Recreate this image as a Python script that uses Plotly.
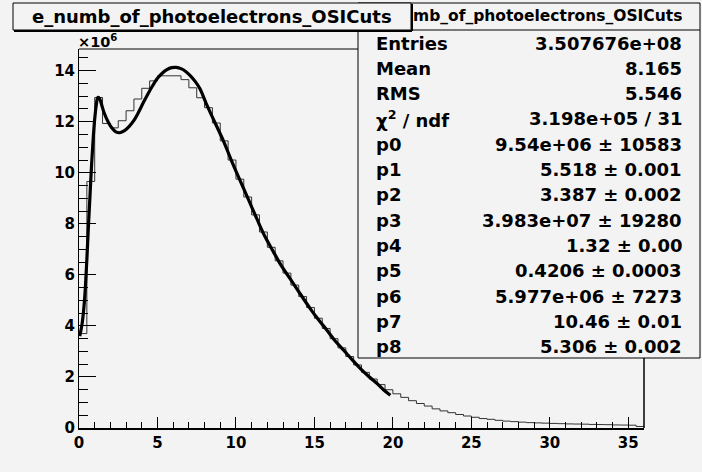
import numpy as np
import plotly.graph_objects as go

# histogram contents (units of 1e6), 0.5 wide bins from 0 to 36
bin_width = 0.5
hist_counts_1e6 = [
    3.7, 9.66, 12.95, 11.93, 11.76, 12.04, 12.43, 12.89, 13.31, 13.6,
    13.8, 13.8, 13.8, 13.65, 13.33, 12.94, 12.55, 11.95, 11.25, 10.5,
    9.75, 9.05, 8.35, 7.68, 7.08, 6.55, 6.07, 5.6, 5.15, 4.72,
    4.3, 3.9, 3.5, 3.14, 2.8, 2.47, 2.18, 1.92, 1.7, 1.5,
    1.34, 1.2, 1.07, 0.96, 0.86, 0.75, 0.67, 0.6, 0.53, 0.47,
    0.42, 0.37, 0.34, 0.3, 0.27, 0.25, 0.23, 0.21, 0.2, 0.19,
    0.18, 0.17, 0.16, 0.155, 0.15, 0.14, 0.135, 0.13, 0.12, 0.115,
    0.11, 0.06,
]

# fit curve
fit_x = [0.05, 0.2, 0.35, 0.5, 0.6, 0.7, 0.8, 0.9, 1.0, 1.1, 1.2, 1.3, 1.45,
         1.6, 1.85, 2.1, 2.35, 2.6, 2.9, 3.2, 3.5, 3.8, 4.1, 4.4, 4.7, 5.0,
         5.3, 5.6, 5.9, 6.2, 6.5, 6.8, 7.1, 7.4, 7.7, 8.1, 8.6, 9.2, 9.7,
         10.26, 10.8, 11.33, 11.85, 12.39, 12.9, 13.45, 14.1, 14.73, 15.25,
         15.8, 16.3, 16.86, 17.4, 17.93, 18.5, 19.0, 19.4, 19.84]
fit_y = [3.6, 4.1, 5.0, 6.6, 7.9, 9.1, 10.3, 11.3, 12.1, 12.65, 12.95, 12.92,
         12.65, 12.35, 12.0, 11.75, 11.6, 11.57, 11.65, 11.82, 12.05, 12.38,
         12.75, 13.1, 13.42, 13.7, 13.9, 14.04, 14.12, 14.13, 14.08, 13.97,
         13.8, 13.58, 13.3, 12.72, 12.05, 11.25, 10.5, 9.7, 8.95, 8.2, 7.5,
         6.9, 6.35, 5.85, 5.25, 4.68, 4.25, 3.83, 3.43, 3.05, 2.68, 2.33,
         2.0, 1.74, 1.5, 1.28]

stats_labels = ["Entries", "Mean", "RMS", "χ<sup>2</sup> / ndf",
                "p0", "p1", "p2", "p3", "p4", "p5", "p6", "p7", "p8"]
stats_values = ["3.507676e+08", "8.165", "5.546", "3.198e+05 / 31",
                "9.54e+06 ± 10583", "5.518 ± 0.001", "3.387 ± 0.002",
                "3.983e+07 ± 19280", "1.32 ± 0.00", "0.4206 ± 0.0003",
                "5.977e+06 ± 7273", "10.46 ± 0.01", "5.306 ± 0.002"]

title_text = "e_numb_of_photoelectrons_OSICuts"
stats_header = "mb_of_photoelectrons_OSICuts"

BG = "#f3f3f3"
FONT = "DejaVu Sans, Liberation Sans, Arial, sans-serif"
W, H = 702, 472
L, R, T, B = 79, 58, 49, 44
PW, PH = W - L - R, H - T - B

def fx(px):
    return (px - L) / PW

def fy(py):
    return 1 - (py - T) / PH

def bold(size):
    return dict(family=FONT, size=size, color="black", weight="bold")

edges = np.arange(0, 36 + bin_width / 2, bin_width)
step_y = hist_counts_1e6 + [hist_counts_1e6[-1]]

fig = go.Figure()
fig.add_trace(go.Scatter(x=edges, y=step_y, mode="lines", line_shape="hv",
                         line=dict(color="#333333", width=1), hoverinfo="skip"))
fig.add_trace(go.Scatter(x=fit_x, y=fit_y, mode="lines", line_shape="spline",
                         line=dict(color="black", width=3.2), hoverinfo="skip"))

fig.update_xaxes(range=[0, 36], tickvals=[0, 5, 10, 15, 20, 25, 30, 35],
                 ticks="inside", ticklen=11, tickwidth=1, tickcolor="black",
                 minor=dict(dtick=1, ticks="inside", ticklen=6, tickcolor="black"),
                 showline=True, linecolor="black", linewidth=2,
                 showgrid=False, zeroline=False, tickfont=bold(15))
fig.update_yaxes(range=[0, 14.85], tickvals=[0, 2, 4, 6, 8, 10, 12, 14],
                 ticks="inside", ticklen=17, tickwidth=1, tickcolor="black",
                 minor=dict(dtick=0.5, ticks="inside", ticklen=9, tickcolor="black"),
                 showline=True, linecolor="black", linewidth=1,
                 showgrid=False, zeroline=False, tickfont=bold(15))

shapes = [
    # frame top and right
    dict(type="line", xref="paper", yref="paper", x0=0, x1=1, y0=1, y1=1,
         line=dict(color="black", width=1), layer="above"),
    dict(type="line", xref="paper", yref="paper", x0=1, x1=1, y0=0, y1=1,
         line=dict(color="black", width=1.5), layer="above"),
    # stats box
    dict(type="rect", xref="paper", yref="paper", x0=fx(358), x1=fx(700),
         y0=fy(358), y1=fy(3), fillcolor=BG, line=dict(color="black", width=1),
         layer="above"),
    dict(type="line", xref="paper", yref="paper", x0=fx(358), x1=fx(700),
         y0=fy(30), y1=fy(30), line=dict(color="black", width=1), layer="above"),
    # title box with shadow
    dict(type="rect", xref="paper", yref="paper", x0=fx(13), x1=fx(411),
         y0=fy(30), y1=fy(3), fillcolor=BG, line=dict(color="black", width=1),
         layer="above"),
    dict(type="line", xref="paper", yref="paper", x0=fx(14), x1=fx(412),
         y0=fy(31), y1=fy(31), line=dict(color="black", width=2), layer="above"),
    dict(type="line", xref="paper", yref="paper", x0=fx(412), x1=fx(412),
         y0=fy(31), y1=fy(4), line=dict(color="black", width=2), layer="above"),
]

annotations = [
    dict(text=title_text, x=fx(212), y=fy(17), xanchor="center", yanchor="middle",
         font=bold(18)),
    dict(text=stats_header, x=fx(684), y=fy(16), xanchor="right", yanchor="middle",
         font=bold(15.5)),
    dict(text="×10<sup>6</sup>", x=fx(76), y=fy(41), xanchor="left", yanchor="middle",
         font=bold(14.5)),
]
for i, (lab, val) in enumerate(zip(stats_labels, stats_values)):
    yy = fy(43 + 25.3 * i)
    annotations.append(dict(text=lab, x=fx(374), y=yy, xanchor="left",
                            yanchor="middle", font=bold(18)))
    annotations.append(dict(text=val, x=fx(684), y=yy, xanchor="right",
                            yanchor="middle", font=bold(18)))
for a in annotations:
    a.update(xref="paper", yref="paper", showarrow=False)

fig.update_layout(width=W, height=H, margin=dict(l=L, r=R, t=T, b=B),
                  paper_bgcolor=BG, plot_bgcolor=BG, showlegend=False,
                  shapes=shapes, annotations=annotations)

# the page body has a default margin; drop it so the figure sits at 0,0
fig.write_html("out.html", config={"displayModeBar": False},
               post_script="document.body.style.margin='0';")
